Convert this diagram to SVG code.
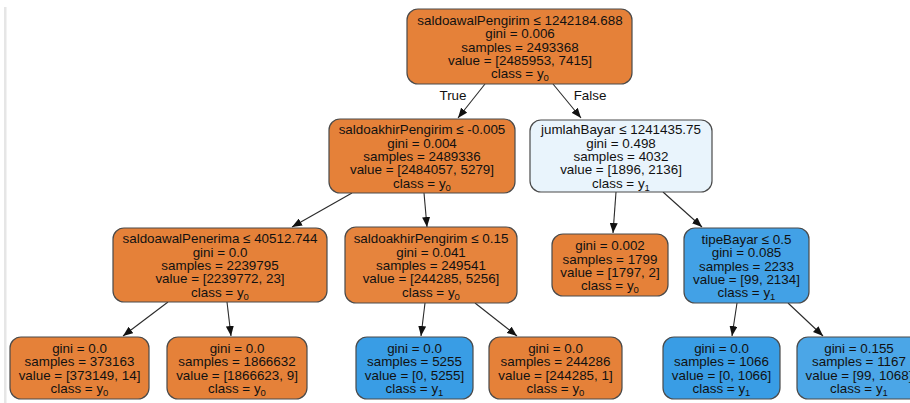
<svg xmlns="http://www.w3.org/2000/svg" width="910" height="403" viewBox="0 0 910 403">
  <style>
    .box { stroke: #4a4a4a; stroke-width: 1.2; }
    .o { fill: #e58139; }
    .o2 { fill: #e6843d; }
    .b { fill: #399de5; }
    .b2 { fill: #42a1e6; }
    .b3 { fill: #4ba6e7; }
    .lb { fill: #e9f4fc; }
    text { font-family: "Liberation Sans", Arial, Helvetica, sans-serif; font-size: 13.4px; fill: #111; text-anchor: middle; }
    .sub { font-size: 9.5px; }
    .edge { stroke: #2a2a2a; stroke-width: 1.1; fill: none; marker-end: url(#arrow); }
  </style>
  <defs>
    <marker id="arrow" markerUnits="userSpaceOnUse" markerWidth="10" markerHeight="8" refX="10" refY="4" orient="auto">
      <path d="M0,0 L10,4 L0,8 z" fill="#111"/>
    </marker>
  </defs>

  <rect width="910" height="403" fill="#ffffff"/>
  <!-- page edge on the left -->
  <rect x="4" y="7" width="2.5" height="396" fill="#e6e6e6"/>

  <g id="connectors">
    <line class="edge" x1="485" y1="84" x2="458" y2="118"/>
    <line class="edge" x1="553" y1="84" x2="581" y2="118"/>
    <line class="edge" x1="352" y1="193" x2="292" y2="227"/>
    <line class="edge" x1="424" y1="193" x2="427" y2="227"/>
    <line class="edge" x1="616" y1="192" x2="613" y2="233"/>
    <line class="edge" x1="663" y1="192" x2="702" y2="227"/>
    <line class="edge" x1="168" y1="302" x2="123" y2="336"/>
    <line class="edge" x1="227" y1="302" x2="231" y2="336"/>
    <line class="edge" x1="425" y1="303" x2="421" y2="336"/>
    <line class="edge" x1="475" y1="303" x2="517" y2="336"/>
    <line class="edge" x1="737" y1="303" x2="732" y2="336"/>
    <line class="edge" x1="788" y1="303" x2="823" y2="336"/>
    <text x="453" y="99.5">True</text>
    <text x="590" y="99.5">False</text>
  </g>

  <g id="node0">
    <rect class="box o" x="407" y="9" width="225" height="75" rx="11"/>
    <text x="520" y="24.7">saldoawalPengirim ≤ 1242184.688</text>
    <text x="520" y="38.1">gini = 0.006</text>
    <text x="520" y="51.5">samples = 2493368</text>
    <text x="520" y="64.9">value = [2485953, 7415]</text>
    <text x="520" y="78.3">class = y<tspan class="sub" dy="3">0</tspan></text>
  </g>

  <g id="node1">
    <rect class="box o" x="329" y="119" width="186" height="74" rx="11"/>
    <text x="422" y="134.2">saldoakhirPengirim ≤ -0.005</text>
    <text x="422" y="147.6">gini = 0.004</text>
    <text x="422" y="161">samples = 2489336</text>
    <text x="422" y="174.4">value = [2484057, 5279]</text>
    <text x="422" y="187.8">class = y<tspan class="sub" dy="3">0</tspan></text>
  </g>

  <g id="node2">
    <rect class="box o" x="113" y="228" width="214" height="74" rx="11"/>
    <text x="220" y="243.2">saldoawalPenerima ≤ 40512.744</text>
    <text x="220" y="256.6">gini = 0.0</text>
    <text x="220" y="270">samples = 2239795</text>
    <text x="220" y="283.4">value = [2239772, 23]</text>
    <text x="220" y="296.8">class = y<tspan class="sub" dy="3">0</tspan></text>
  </g>

  <g id="node3">
    <rect class="box o" x="10" y="337" width="139" height="62" rx="11"/>
    <text x="79.5" y="352.9">gini = 0.0</text>
    <text x="79.5" y="366.3">samples = 373163</text>
    <text x="79.5" y="379.7">value = [373149, 14]</text>
    <text x="79.5" y="393.1">class = y<tspan class="sub" dy="3">0</tspan></text>
  </g>

  <g id="node4">
    <rect class="box o" x="167" y="337" width="140" height="62" rx="11"/>
    <text x="237" y="352.9">gini = 0.0</text>
    <text x="237" y="366.3">samples = 1866632</text>
    <text x="237" y="379.7">value = [1866623, 9]</text>
    <text x="237" y="393.1">class = y<tspan class="sub" dy="3">0</tspan></text>
  </g>

  <g id="node5">
    <rect class="box o2" x="345" y="227" width="172" height="76" rx="11"/>
    <text x="431" y="243.2">saldoakhirPengirim ≤ 0.15</text>
    <text x="431" y="256.6">gini = 0.041</text>
    <text x="431" y="270">samples = 249541</text>
    <text x="431" y="283.4">value = [244285, 5256]</text>
    <text x="431" y="296.8">class = y<tspan class="sub" dy="3">0</tspan></text>
  </g>

  <g id="node6">
    <rect class="box b" x="356" y="337" width="117" height="62" rx="11"/>
    <text x="414.5" y="352.9">gini = 0.0</text>
    <text x="414.5" y="366.3">samples = 5255</text>
    <text x="414.5" y="379.7">value = [0, 5255]</text>
    <text x="414.5" y="393.1">class = y<tspan class="sub" dy="3">1</tspan></text>
  </g>

  <g id="node7">
    <rect class="box o" x="489" y="337" width="133" height="62" rx="11"/>
    <text x="555.5" y="352.9">gini = 0.0</text>
    <text x="555.5" y="366.3">samples = 244286</text>
    <text x="555.5" y="379.7">value = [244285, 1]</text>
    <text x="555.5" y="393.1">class = y<tspan class="sub" dy="3">0</tspan></text>
  </g>

  <g id="node8">
    <rect class="box lb" x="530" y="120" width="182" height="72" rx="11"/>
    <text x="621" y="134.2">jumlahBayar ≤ 1241435.75</text>
    <text x="621" y="147.6">gini = 0.498</text>
    <text x="621" y="161">samples = 4032</text>
    <text x="621" y="174.4">value = [1896, 2136]</text>
    <text x="621" y="187.8">class = y<tspan class="sub" dy="3">1</tspan></text>
  </g>

  <g id="node9">
    <rect class="box o" x="552" y="234" width="116" height="62" rx="11"/>
    <text x="610" y="250.2">gini = 0.002</text>
    <text x="610" y="263.6">samples = 1799</text>
    <text x="610" y="277">value = [1797, 2]</text>
    <text x="610" y="290.4">class = y<tspan class="sub" dy="3">0</tspan></text>
  </g>

  <g id="node10">
    <rect class="box b2" x="684" y="228" width="125" height="75" rx="11"/>
    <text x="746.5" y="243.7">tipeBayar ≤ 0.5</text>
    <text x="746.5" y="257.1">gini = 0.085</text>
    <text x="746.5" y="270.5">samples = 2233</text>
    <text x="746.5" y="283.9">value = [99, 2134]</text>
    <text x="746.5" y="297.3">class = y<tspan class="sub" dy="3">1</tspan></text>
  </g>

  <g id="node11">
    <rect class="box b" x="663" y="337" width="117" height="62" rx="11"/>
    <text x="721.5" y="352.9">gini = 0.0</text>
    <text x="721.5" y="366.3">samples = 1066</text>
    <text x="721.5" y="379.7">value = [0, 1066]</text>
    <text x="721.5" y="393.1">class = y<tspan class="sub" dy="3">1</tspan></text>
  </g>

  <g id="node12">
    <rect class="box b3" x="797" y="337" width="124" height="62" rx="11"/>
    <text x="859" y="352.9">gini = 0.155</text>
    <text x="859" y="366.3">samples = 1167</text>
    <text x="859" y="379.7">value = [99, 1068]</text>
    <text x="859" y="393.1">class = y<tspan class="sub" dy="3">1</tspan></text>
  </g>
</svg>
